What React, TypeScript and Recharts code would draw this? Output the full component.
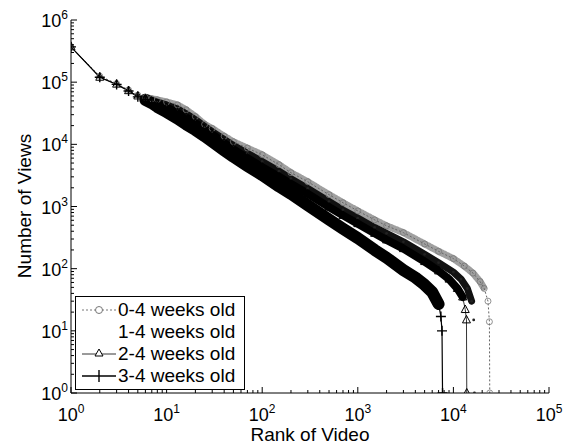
import { LineChart, Line, XAxis, YAxis } from "recharts";

// rank / views
const ranks0 = [1, 2, 3, 4, 5, 6, 7, 8, 10, 13, 16, 20, 25, 30, 40, 50, 70, 100, 150, 200, 300, 500, 700, 1000, 1500, 2000, 3000, 5000, 7000, 10000, 13000, 16000, 19000, 21000, 23000, 23800, 24000];
const views0 = [370000, 125000, 95000, 75000, 62000, 57000, 54000, 52000, 48000, 43000, 36000, 28000, 21000, 18000, 13500, 11000, 8700, 6800, 4700, 3500, 2500, 1550, 1150, 850, 610, 490, 380, 250, 190, 145, 110, 85, 62, 48, 30, 14, 1];

const ranks1 = [1, 2, 3, 4, 5, 6, 7, 8, 10, 13, 16, 20, 25, 30, 40, 50, 70, 100, 150, 200, 300, 500, 700, 1000, 1500, 2000, 3000, 5000, 7000, 10000, 12000, 14000, 15500, 16300, 16600];
const views1 = [370000, 122000, 94000, 74000, 61000, 55000, 51000, 48000, 43000, 37000, 31000, 25000, 19500, 16000, 12000, 9600, 7200, 5300, 3700, 2800, 1950, 1200, 880, 650, 460, 370, 270, 170, 125, 88, 68, 48, 30, 15, 1];

const ranks2 = [1, 2, 3, 4, 5, 6, 7, 8, 10, 13, 16, 20, 25, 30, 40, 50, 70, 100, 150, 200, 300, 500, 700, 1000, 1500, 2000, 3000, 5000, 7000, 9000, 11000, 12500, 13300, 13700, 13800];
const views2 = [370000, 120000, 93000, 73000, 60000, 54000, 49000, 45000, 39000, 32000, 27000, 22000, 17500, 14500, 10500, 8300, 6000, 4300, 3000, 2300, 1600, 980, 720, 530, 370, 290, 210, 130, 92, 68, 48, 35, 22, 15, 1];

const ranks3 = [1, 2, 3, 4, 5, 6, 7, 8, 10, 13, 16, 20, 25, 30, 40, 50, 70, 100, 150, 200, 300, 500, 700, 1000, 1500, 2000, 3000, 4000, 5000, 6000, 7000, 7400, 7600, 7700];
const views3 = [370000, 120000, 92000, 72000, 58000, 52000, 46000, 40000, 33000, 26000, 21000, 17000, 13500, 11000, 8000, 6300, 4500, 3200, 2100, 1600, 1050, 620, 440, 310, 200, 150, 95, 72, 55, 42, 27, 17, 10, 1];

const seriesNames = ["0-4 weeks old", "1-4 weeks old", "2-4 weeks old", "3-4 weeks old"];

const xMajor = [1, 10, 100, 1000, 10000, 100000];
const yMajor = [1, 10, 100, 1000, 10000, 100000, 1000000];
const minorSteps = [2, 3, 4, 5, 6, 7, 8, 9];

const withMinor = (major: number[]) =>
  major.flatMap((m, i) => (i < major.length - 1 ? [m, ...minorSteps.map((s) => s * m)] : [m]));
const xTicks = withMinor(xMajor);
const yTicks = withMinor(yMajor);

const toRows = (ranks: number[], views: number[]) => ranks.map((r, i) => ({ rank: r, v: views[i] }));
const s0 = toRows(ranks0, views0);
const s1 = toRows(ranks1, views1);
const s2 = toRows(ranks2, views2);
const s3 = toRows(ranks3, views3);

// the dense part of each curve, where the markers run together into a band
const band = (rows: { rank: number; v: number }[], minV: number) =>
  rows.filter((d) => d.rank >= 6 && d.v >= minV);

const FONT = "'Liberation Sans', Arial, Helvetica, sans-serif";

const isMajor = (v: number) => Math.abs(Math.log10(v) - Math.round(Math.log10(v))) < 1e-9;

function makeTick(side: "bottom" | "top" | "left" | "right") {
  return (props: any) => {
    const { x, y, payload } = props;
    const v = payload.value;
    const major = isMajor(v);
    const len = major ? 6 : 3;
    const exp = Math.round(Math.log10(v));
    let tick;
    if (side === "bottom") tick = <line x1={x} x2={x} y1={y} y2={y - len} stroke="#000" />;
    else if (side === "top") tick = <line x1={x} x2={x} y1={y} y2={y + len} stroke="#000" />;
    else if (side === "left") tick = <line x1={x} x2={x + len} y1={y} y2={y} stroke="#000" />;
    else tick = <line x1={x} x2={x - len} y1={y} y2={y} stroke="#000" />;
    return (
      <g>
        {tick}
        {major && side === "bottom" && (
          <text x={x} y={y + 28} textAnchor="middle" fontFamily={FONT} fontSize={18} fill="#000">
            10<tspan dy={-8} fontSize={12}>{exp}</tspan>
          </text>
        )}
        {major && side === "left" && (
          <text x={x - 3} y={y + 7} textAnchor="end" fontFamily={FONT} fontSize={18} fill="#000">
            10<tspan dy={-8} fontSize={12}>{exp}</tspan>
          </text>
        )}
      </g>
    );
  };
}

const CircleDot = (p: any) =>
  p.cx == null ? <g key={p.index} /> : (
    <circle key={p.index} cx={p.cx} cy={p.cy} r={3} fill="none" stroke="#777" strokeWidth={0.8} />
  );
const SmallDot = (p: any) =>
  p.cx == null ? <g key={p.index} /> : <circle key={p.index} cx={p.cx} cy={p.cy} r={1.4} fill="#222" />;
const TriDot = (p: any) =>
  p.cx == null ? <g key={p.index} /> : (
    <path
      key={p.index}
      d={`M${p.cx},${p.cy - 4.5}L${p.cx + 4},${p.cy + 3}L${p.cx - 4},${p.cy + 3}Z`}
      fill="none"
      stroke="#000"
      strokeWidth={1}
    />
  );
const PlusDot = (p: any) =>
  p.cx == null ? <g key={p.index} /> : (
    <path
      key={p.index}
      d={`M${p.cx - 5},${p.cy}H${p.cx + 5}M${p.cx},${p.cy - 5}V${p.cy + 5}`}
      stroke="#000"
      strokeWidth={1.4}
    />
  );

function LegendBox() {
  const rowH = 22;
  return (
    <div
      style={{
        position: "absolute",
        left: 75,
        top: 296,
        width: 170,
        height: 94,
        border: "1px solid #000",
        background: "#fff",
        boxSizing: "border-box",
        fontFamily: FONT,
        fontSize: 19,
        color: "#000",
      }}
    >
      {seriesNames.map((name, i) => (
        <div key={name} style={{ position: "absolute", left: 0, top: 2 + i * rowH, height: rowH, display: "flex", alignItems: "center" }}>
          <svg width={42} height={rowH} style={{ display: "block" }}>
            {i === 0 && (
              <g>
                <line x1={6} x2={40} y1={11} y2={11} stroke="#777" strokeDasharray="2 2" />
                <circle cx={23} cy={11} r={3.5} fill="#fff" stroke="#777" />
              </g>
            )}
            {i === 2 && (
              <g>
                <line x1={6} x2={40} y1={11} y2={11} stroke="#000" strokeWidth={0.8} />
                <path d="M23,6L27,13L19,13Z" fill="#fff" stroke="#000" />
              </g>
            )}
            {i === 3 && (
              <g>
                <line x1={6} x2={40} y1={11} y2={11} stroke="#000" strokeWidth={1.4} />
                <path d="M23,5V17" stroke="#000" strokeWidth={1.4} />
              </g>
            )}
          </svg>
          <span style={{ whiteSpace: "nowrap" }}>{name}</span>
        </div>
      ))}
    </div>
  );
}

export default function App() {
  return (
    <div style={{ position: "absolute", left: 0, top: 0, width: 567, height: 447, background: "#fff" }}>
      <LineChart width={567} height={447} margin={{ top: 20, right: 18, bottom: 24, left: 0 }}>
        <XAxis
          dataKey="rank"
          type="number"
          scale="log"
          domain={[1, 100000]}
          ticks={xTicks}
          interval={0}
          tickSize={0}
          tickMargin={0}
          height={30}
          axisLine={{ stroke: "#000" }}
          tick={makeTick("bottom")}
          allowDataOverflow
        />
        <XAxis
          xAxisId="top"
          orientation="top"
          dataKey="rank"
          type="number"
          scale="log"
          domain={[1, 100000]}
          ticks={xTicks}
          interval={0}
          tickSize={0}
          tickMargin={0}
          height={0}
          axisLine={{ stroke: "#000" }}
          tick={makeTick("top")}
          allowDataOverflow
        />
        <YAxis
          type="number"
          scale="log"
          domain={[1, 1000000]}
          ticks={yTicks}
          interval={0}
          tickSize={0}
          tickMargin={0}
          width={71}
          axisLine={{ stroke: "#000" }}
          tick={makeTick("left")}
          allowDataOverflow
        />
        <YAxis
          yAxisId="right"
          orientation="right"
          type="number"
          scale="log"
          domain={[1, 1000000]}
          ticks={yTicks}
          interval={0}
          tickSize={0}
          tickMargin={0}
          width={0}
          axisLine={{ stroke: "#000" }}
          tick={makeTick("right")}
          allowDataOverflow
        />

        {/* 0-4 weeks: light dotted band of circles */}
        <Line data={band(s0, 40)} dataKey="v" stroke="#a0a0a0" strokeWidth={7} strokeDasharray="1.5 1.5" strokeLinecap="round" dot={false} isAnimationActive={false} legendType="none" />
        <Line data={s0} dataKey="v" name={seriesNames[0]} stroke="#666" strokeWidth={1} strokeDasharray="2 2" dot={CircleDot} isAnimationActive={false} />

        {/* 1-4 weeks: point markers */}
        <Line data={band(s1, 30)} dataKey="v" stroke="#111" strokeWidth={7} strokeLinecap="round" strokeLinejoin="round" dot={false} isAnimationActive={false} legendType="none" />
        <Line data={s1} dataKey="v" name={seriesNames[1]} stroke="none" dot={SmallDot} isAnimationActive={false} />

        {/* 2-4 weeks: triangles */}
        <Line data={band(s2, 30)} dataKey="v" stroke="#000" strokeWidth={8} strokeLinecap="round" strokeLinejoin="round" dot={false} isAnimationActive={false} legendType="none" />
        <Line data={s2} dataKey="v" name={seriesNames[2]} stroke="#000" strokeWidth={0.8} dot={TriDot} isAnimationActive={false} />

        {/* 3-4 weeks: plus signs */}
        <Line data={band(s3, 20)} dataKey="v" stroke="#000" strokeWidth={12} strokeLinecap="round" strokeLinejoin="round" dot={false} isAnimationActive={false} legendType="none" />
        <Line data={s3} dataKey="v" name={seriesNames[3]} stroke="#000" strokeWidth={1.2} dot={PlusDot} isAnimationActive={false} />

        <text x={310} y={441} textAnchor="middle" fontFamily={FONT} fontSize={19} fill="#000">
          Rank of Video
        </text>
        <text
          x={31}
          y={206}
          textAnchor="middle"
          fontFamily={FONT}
          fontSize={19}
          fill="#000"
          transform="rotate(-90 31 206)"
        >
          Number of Views
        </text>
      </LineChart>
      <LegendBox />
    </div>
  );
}
